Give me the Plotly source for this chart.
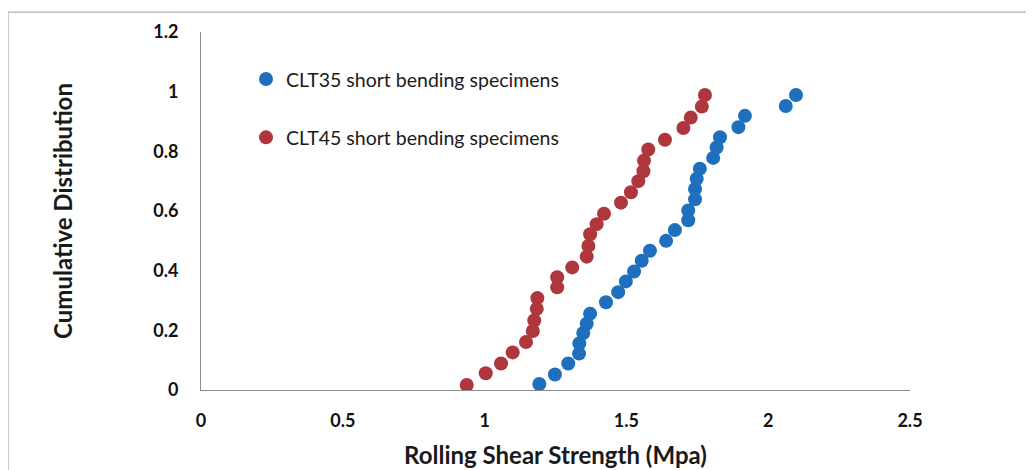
import plotly.graph_objects as go

# CLT35 short bending specimens
clt35_strength = [1.193, 1.248, 1.295, 1.333, 1.334, 1.348, 1.360, 1.372, 1.428, 1.471,
                  1.498, 1.527, 1.554, 1.583, 1.640, 1.671, 1.718, 1.718, 1.742, 1.742,
                  1.748, 1.759, 1.806, 1.818, 1.830, 1.895, 1.918, 2.062, 2.098]
clt35_cdf = [0.020, 0.052, 0.089, 0.122, 0.156, 0.191, 0.222, 0.256, 0.294, 0.328,
             0.364, 0.397, 0.433, 0.467, 0.500, 0.536, 0.569, 0.602, 0.639, 0.674,
             0.708, 0.742, 0.778, 0.813, 0.847, 0.881, 0.919, 0.952, 0.989]

# CLT45 short bending specimens
clt45_strength = [0.937, 1.004, 1.058, 1.099, 1.146, 1.170, 1.175, 1.184, 1.186, 1.256,
                  1.256, 1.309, 1.360, 1.366, 1.372, 1.395, 1.421, 1.481, 1.516, 1.542,
                  1.560, 1.562, 1.577, 1.636, 1.701, 1.727, 1.766, 1.777]
clt45_cdf = [0.017, 0.056, 0.089, 0.126, 0.161, 0.198, 0.233, 0.272, 0.308, 0.344,
             0.378, 0.411, 0.447, 0.483, 0.522, 0.556, 0.591, 0.628, 0.663, 0.700,
             0.733, 0.769, 0.806, 0.839, 0.878, 0.913, 0.950, 0.989]

x_ticks = [0, 0.5, 1, 1.5, 2, 2.5]
x_tick_labels = ["0", "0.5", "1", "1.5", "2", "2.5"]
y_ticks = [0, 0.2, 0.4, 0.6, 0.8, 1.0, 1.2]
y_tick_labels = ["0", "0.2", "0.4", "0.6", "0.8", "1", "1.2"]

BLUE = "#1f6fbf"
RED = "#b0363d"
FONT = "Lato, Carlito, Calibri, sans-serif"

L, T, W, H = 193, 22, 709, 360

fig = go.Figure()
fig.add_trace(go.Scatter(
    x=clt35_strength, y=clt35_cdf, mode="markers",
    name="CLT35 short bending specimens", legendgroup="a",
    marker=dict(color=BLUE, size=14, line=dict(width=0)),
))
fig.add_trace(go.Scatter(
    x=clt45_strength, y=clt45_cdf, mode="markers",
    name="CLT45 short bending specimens", legendgroup="b",
    marker=dict(color=RED, size=14, line=dict(width=0)),
))

fig.update_layout(
    width=1034, height=470,
    margin=dict(l=L, r=1034 - L - W, t=T, b=470 - T - H),
    paper_bgcolor="white", plot_bgcolor="white",
    font=dict(family=FONT, color="#1a1a1a"),
    legend=dict(
        x=(238 - L) / W, y=1 - (50 - T) / H, xanchor="left", yanchor="top",
        font=dict(size=19.5, family=FONT, color="#1a1a1a"),
        bgcolor="rgba(0,0,0,0)", traceorder="grouped", tracegroupgap=30,
        itemwidth=30,
    ),
    shapes=[dict(
        type="rect", xref="paper", yref="paper",
        x0=(0 - L) / W, x1=(1060 - L) / W,
        y0=-0.5, y1=1 + (T - 2) / H,
        line=dict(color="#9a9a9a", width=1), fillcolor="rgba(0,0,0,0)",
        layer="below",
    )],
)

fig.update_xaxes(
    range=[0, 2.5], tickvals=x_ticks, ticktext=x_tick_labels,
    showgrid=False, zeroline=False, showline=True, linecolor="#8c8c8c", linewidth=1,
    ticks="", ticklabelstandoff=14,
    tickfont=dict(size=18, family=FONT, color="#111111", weight="bold"),
    title=dict(text="<b>Rolling Shear Strength (Mpa)</b>", standoff=17,
               font=dict(size=24, family=FONT, color="#1a1a1a")),
)
fig.update_yaxes(
    range=[0, 1.2], tickvals=y_ticks, ticktext=y_tick_labels,
    showgrid=False, zeroline=False, showline=True, linecolor="#8c8c8c", linewidth=1,
    ticks="", ticklabelstandoff=18,
    tickfont=dict(size=18, family=FONT, color="#111111", weight="bold"),
    title=dict(text="<b>Cumulative Distribution</b>", standoff=73,
               font=dict(size=24, family=FONT, color="#1a1a1a")),
)

fig.write_html("out.html")
